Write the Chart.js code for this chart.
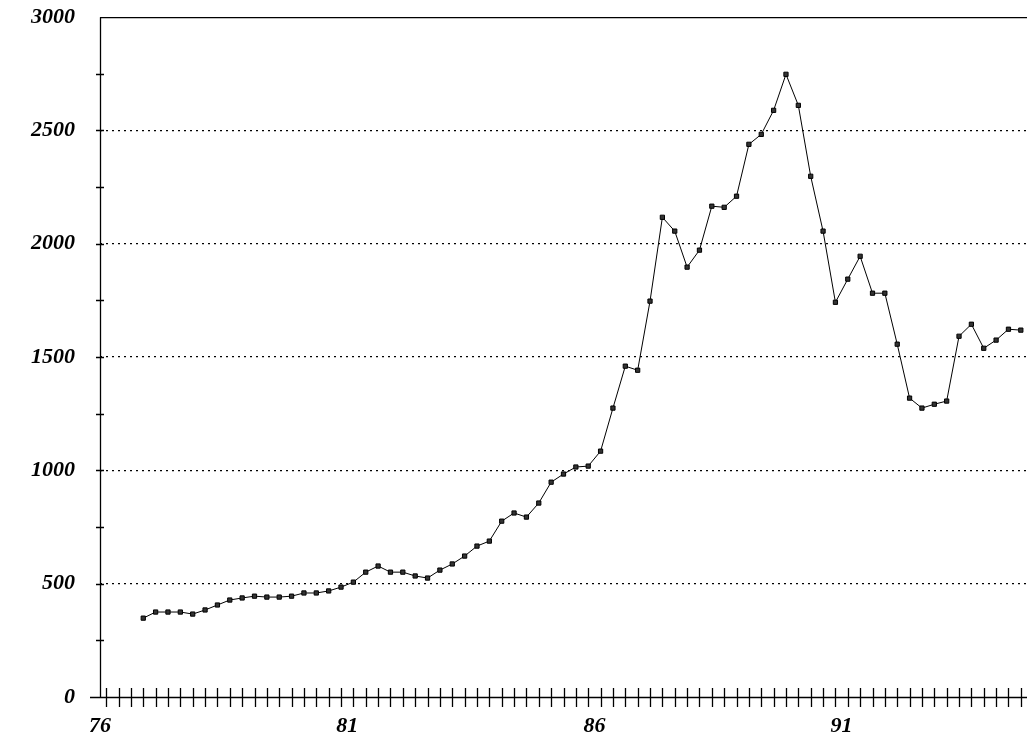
<!DOCTYPE html>
<html><head><meta charset="utf-8">
<script src="https://cdn.jsdelivr.net/npm/chart.js@4"></script>
<style>html,body{margin:0;padding:0;background:#fff;overflow:hidden}#w{width:1032px;height:763px;margin-top:-21px}</style>
</head><body><div id="w"><canvas id="c"></canvas></div>
<script>
const startYear = 76.875;
const quarterStep = 0.25;
const values = [348,375,375,375,366,384,406,428,437,445,441,441,445,459,459,468,485,507,551,578,551,551,534,525,560,587,622,666,688,776,812,794,856,948,984,1015,1019,1085,1275,1460,1442,1747,2117,2056,1897,1972,2166,2161,2210,2439,2483,2589,2748,2611,2298,2056,1742,1844,1945,1782,1782,1557,1319,1275,1292,1306,1592,1645,1539,1575,1623,1619];
const xLabels = [76,81,86,91];
const yLabels = [0,500,1000,1500,2000,2500,3000];
const pts = values.map((v,i)=>({x:startYear+i*quarterStep,y:v}));
const font = {family:'"Liberation Serif", serif', size:22, style:'italic', weight:'bold'};
const axes = {id:'axes', afterDraw(c){
  const a=c.chartArea,x=c.ctx,sx=c.scales.x,sy=c.scales.y;
  x.save();x.strokeStyle='#000';x.lineWidth=1.3;x.setLineDash([]);x.beginPath();
  x.moveTo(a.left,a.top+0.5);x.lineTo(a.right,a.top+0.5);
  x.moveTo(a.left+0.5,a.top);x.lineTo(a.left+0.5,a.bottom);
  x.moveTo(a.left-10,a.bottom+0.5);x.lineTo(a.right,a.bottom+0.5);
  for(let v=76.125;v<=sx.max;v+=0.25){const p=Math.round(sx.getPixelForValue(v))+0.5;x.moveTo(p,a.bottom-9);x.lineTo(p,a.bottom+10);}
  for(let v=250;v<3000;v+=250){const p=Math.round(sy.getPixelForValue(v))+0.5;x.moveTo(a.left-4,p);x.lineTo(a.left+4,p);}
  x.stroke();x.restore();}};
new Chart(document.getElementById('c'),{
 type:'line',
 data:{datasets:[{data:pts,borderColor:'#000',borderWidth:1,pointStyle:'rect',pointRadius:3,pointBackgroundColor:'#333',pointBorderColor:'#000',pointBorderWidth:1,tension:0}]},
 options:{responsive:true,maintainAspectRatio:false,animation:false,
  layout:{padding:{top:17,right:0,left:0,bottom:0}},
  plugins:{legend:{display:false},tooltip:{enabled:false}},
  scales:{
   x:{type:'linear',min:76,max:94.75,
    afterBuildTicks:s=>{s.ticks=xLabels.map(v=>({value:v}));},
    afterFit:s=>{s.height=45;},
    ticks:{autoSkip:false,maxRotation:0,color:'#000',font:font,padding:16,callback:v=>String(v)},
    grid:{display:false,drawTicks:false},border:{display:false}
   },
   y:{min:0,max:3000,
    afterBuildTicks:s=>{s.ticks=yLabels.map(v=>({value:v}));},
    afterFit:s=>{s.width=100;},
    ticks:{autoSkip:false,color:'#000',font:font,padding:25,callback:v=>String(v)},
    grid:{drawTicks:false,lineWidth:1.2,color:c=>(c.tick&&c.tick.value>0&&c.tick.value<3000)?'#000':'rgba(0,0,0,0)'},
    border:{display:false,dash:[2,4]}
   }
  }
 },
 plugins:[axes]
});
</script></body></html>
